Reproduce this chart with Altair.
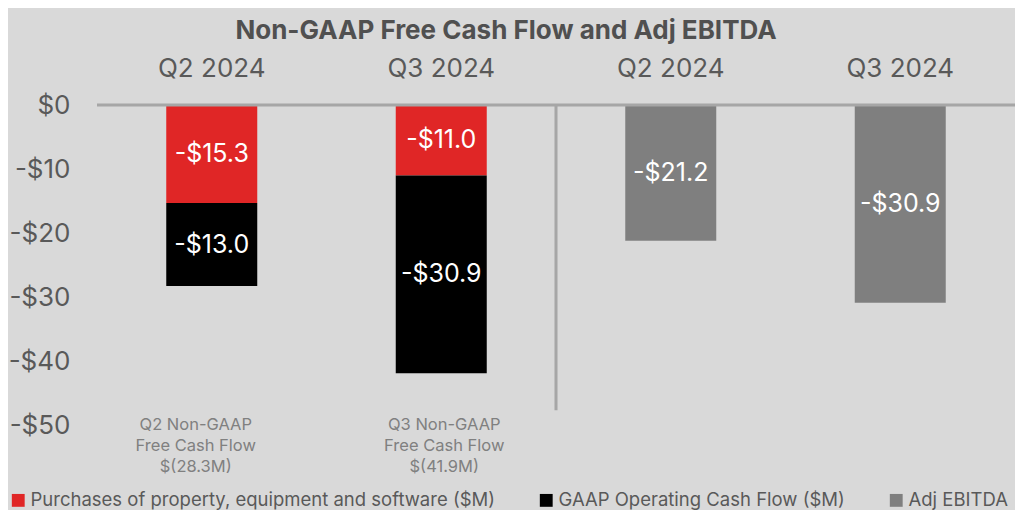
import altair as alt
import pandas as pd

categories = ["Q2 FCF", "Q3 FCF", "Q2 EBITDA", "Q3 EBITDA"]
column_labels = ["Q2 2024", "Q3 2024", "Q2 2024", "Q3 2024"]
fcf_periods = ["Q2 FCF", "Q3 FCF"]
ebitda_periods = ["Q2 EBITDA", "Q3 EBITDA"]
purchases = [-15.3, -11.0]
gaap_ocf = [-13.0, -30.9]
adj_ebitda = [-21.2, -30.9]
fcf_notes = [
    ["Q2 Non-GAAP", "Free Cash Flow", "$(28.3M)"],
    ["Q3 Non-GAAP", "Free Cash Flow", "$(41.9M)"],
]
note_shift = [-16, 3]
series = [
    "Purchases of property, equipment and software ($M)",
    "GAAP Operating Cash Flow ($M)",
    "Adj EBITDA",
]
colors = ["#e02626", "#000000", "#7f7f7f"]
y_ticks = [0, -10, -20, -30, -40, -50]

FONT = "Inter"
TXT = "#595959"

rows = []
for cat, p, g in zip(fcf_periods, purchases, gaap_ocf):
    rows.append(dict(cat=cat, series=series[0], y0=0.0, y1=p, value=p))
    rows.append(dict(cat=cat, series=series[1], y0=p, y1=p + g, value=g))
for cat, e in zip(ebitda_periods, adj_ebitda):
    rows.append(dict(cat=cat, series=series[2], y0=0.0, y1=e, value=e))
df = pd.DataFrame(rows)
df["mid"] = (df["y0"] + df["y1"]) / 2
df["label"] = df["value"].map(lambda v: "-$%.1f" % abs(v))

label_map = "{" + ",".join("'%s':'%s'" % (c, l) for c, l in zip(categories, column_labels)) + "}"

xscale = alt.Scale(domain=categories, paddingInner=0, paddingOuter=0)
xaxis = alt.Axis(
    orient="top", title=None, labelExpr=label_map + "[datum.value]", labelAngle=0,
    labelFontSize=26, labelColor=TXT, labelFont=FONT, labelBaseline="alphabetic",
    labelPadding=29, ticks=False, tickSize=0, domain=False, grid=False,
)
yscale = alt.Scale(domain=[-50, 0], nice=False, zero=False)
yaxis = alt.Axis(
    title=None, values=y_ticks,
    labelExpr="datum.value == 0 ? '$0' : '-$' + abs(datum.value)",
    labelFontSize=26, labelColor=TXT, labelFont=FONT, labelPadding=27,
    ticks=False, tickSize=0, domain=False, grid=False,
)


def X(field="cat:N", **kw):
    return alt.X(field, scale=xscale, axis=xaxis, title=None, **kw)


def Y(field):
    return alt.Y(field, scale=yscale, axis=yaxis, title=None)


bars = alt.Chart(df).mark_bar(size=91).encode(
    x=X(),
    y=Y("y0:Q"),
    y2="y1:Q",
    color=alt.Color(
        "series:N",
        scale=alt.Scale(domain=series, range=colors),
        legend=alt.Legend(
            title=None, orient="none", direction="horizontal", legendX=-88, legendY=386,
            symbolType="square", symbolSize=165, symbolStrokeWidth=0,
            labelFontSize=18.5, labelColor=TXT, labelFont=FONT, labelLimit=800,
            labelOffset=3, columnPadding=42, padding=0,
        ),
    ),
)

zero = alt.Chart(pd.DataFrame({"y": [0.0]})).mark_rule(color="#a6a6a6", strokeWidth=3).encode(
    y=Y("y:Q")
)

divider = alt.Chart(pd.DataFrame({"cat": ["Q3 FCF"], "y0": [0.0], "y1": [-47.7]})).mark_rule(
    color="#a6a6a6", strokeWidth=3
).encode(x=X("cat:N", bandPosition=1), y=Y("y0:Q"), y2="y1:Q")

labels = alt.Chart(df).mark_text(color="white", fontSize=25, font=FONT, baseline="middle").encode(
    x=X(), y=Y("mid:Q"), text="label:N"
)

layers = [bars, zero, divider, labels]
for cat, lines, shift in zip(fcf_periods, fcf_notes, note_shift):
    nd = pd.DataFrame({"cat": [cat], "lines": [lines], "y": [-50.0]})
    layers.append(
        alt.Chart(nd).mark_text(
            color="#808080", fontSize=16.5, font=FONT, baseline="alphabetic",
            lineHeight=21, dy=5, dx=shift, align="center",
        ).encode(x=X(), y=Y("y:Q"), text="lines:N")
    )

chart = alt.layer(*layers).properties(
    width=918, height=320,
    autosize=alt.AutoSizeParams(type="none"),
    padding={"left": 89, "top": 97, "right": 0, "bottom": 85},
    background="#d9d9d9",
    title=alt.TitleParams(
        "Non-GAAP Free Cash Flow and Adj EBITDA", anchor="middle", frame="group",
        dx=-50, offset=11, fontSize=26, font=FONT, fontWeight="bold", color="#505050",
    ),
).configure_view(stroke=None)

chart.save("out.html", embed_options={"renderer": "svg", "actions": False})
